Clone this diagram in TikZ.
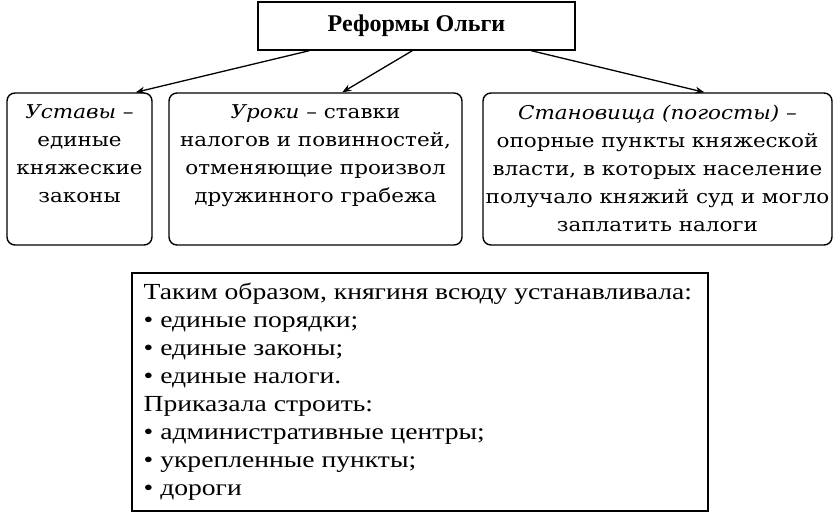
\documentclass[tikz,border=0pt]{standalone}
\usepackage{fontspec}
\setmainfont{Liberation Serif}
\newfontfamily\widefont[FakeStretch=1.13]{DejaVu Serif}
\newfontfamily\stretchfont[FakeStretch=1.2]{Liberation Serif}
\usetikzlibrary{calc,arrows.meta}
\begin{document}
\begin{tikzpicture}[x=1pt,y=-1pt,
  line width=1.4pt,
  titlebox/.style={draw, inner sep=0pt, minimum width=317pt, minimum height=48pt,
    font=\bfseries\fontsize{24}{26}\selectfont},
  rbox/.style={draw, rounded corners=8pt, inner sep=0pt},
  sqbox/.style={draw, inner sep=0pt},
  toptext/.style={inner sep=0pt, align=center, anchor=north, font=\widefont\fontsize{19}{28}\selectfont},
  bottext/.style={inner sep=0pt, align=left, anchor=north west, font=\stretchfont\fontsize{23}{28}\selectfont},
  arr/.style={-{Stealth[length=9pt,width=7pt]}, line width=1.3pt}]
\useasboundingbox (0,0) rectangle (840,514);
\fill[white] (0,0) rectangle (840,514);

\node[titlebox] (title) at (416.5,26) {Реформы Ольги};

\node[rbox, minimum width=145pt, minimum height=152pt] (ustavy) at (79.5,169) {};
\node[rbox, minimum width=293pt, minimum height=152pt] (uroki) at (315.5,169) {};
\node[rbox, minimum width=349pt, minimum height=152pt] (stan) at (657.5,169) {};
\node[sqbox, minimum width=576pt, minimum height=238pt] (itog) at (420,392) {};

\node[toptext] (ustavyT) at (79.5,104) {\textit{Уставы} –\\единые\\княжеские\\законы};
\node[toptext] (urokiT) at (315.5,104) {\textit{Уроки} – ставки\\налогов и повинностей,\\отменяющие произвол\\дружинного грабежа};
\node[toptext] (stanT) at (657.5,104) {\textit{Становища (погосты)} –\\опорные пункты княжеской\\власти, в которых население\\получало княжий суд и могло\\заплатить налоги};

\node[bottext] (itogT) at (143,282) {Таким образом, княгиня всюду устанавливала:\\
• единые порядки;\\
• единые законы;\\
• единые налоги.\\
Приказала строить:\\
• административные центры;\\
• укрепленные пункты;\\
• дороги};

\coordinate (s1) at ($(title.south west)+(52,0)$);
\coordinate (s2) at ($(title.south west)+(155,0)$);
\coordinate (s3) at ($(title.south west)+(274,0)$);
\coordinate (e1) at ($(ustavy.north east)+(-17,0)$);
\coordinate (e2) at ($(uroki.north west)+(174,0)$);
\coordinate (e3) at ($(stan.north west)+(222,0)$);
\draw[arr] (s1) -- (e1);
\draw[arr] (s2) -- (e2);
\draw[arr] (s3) -- (e3);
\end{tikzpicture}
\end{document}
